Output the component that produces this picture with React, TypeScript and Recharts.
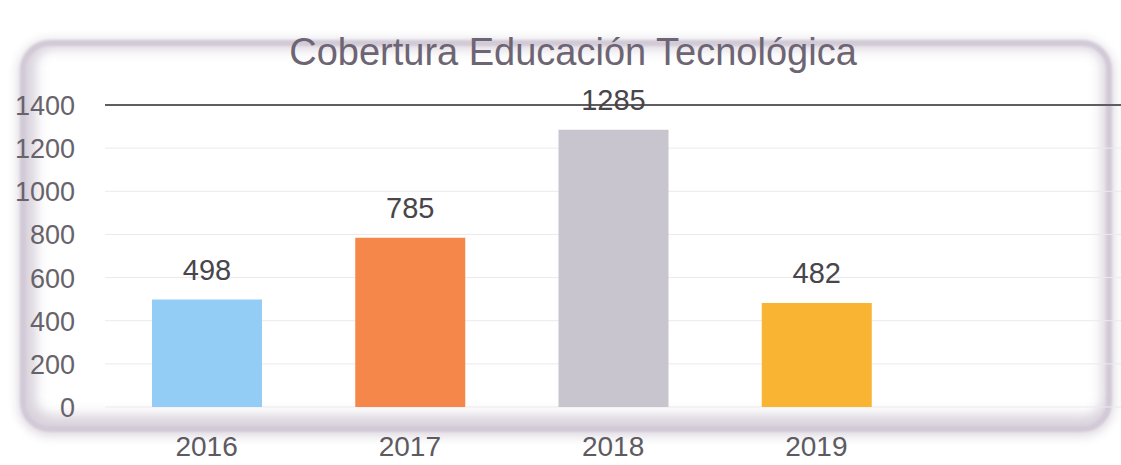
import React from 'react';
import { BarChart, Bar, XAxis, YAxis, CartesianGrid, ReferenceLine, LabelList, Cell } from 'recharts';

const title = 'Cobertura Educación Tecnológica';
const years = ['2016', '2017', '2018', '2019'];
const values = [498, 785, 1285, 482];
const barColors = ['#93cdf5', '#f5874b', '#c9c5cf', '#f8b432'];
const yTicks = [0, 200, 400, 600, 800, 1000, 1200, 1400];

const data = years.map((year, i) => ({ year, value: values[i] }));

const FONT = '"Liberation Sans", Arial, sans-serif';

const XTick = (props: any) => {
  const { x, y, payload } = props;
  return (
    <text x={x} y={y + 49} textAnchor="middle" fontFamily={FONT} fontSize={28} fill="#5e5a62">
      {payload.value}
    </text>
  );
};

const YTick = (props: any) => {
  const { x, y, payload } = props;
  return (
    <text x={x - 30} y={y + 10} textAnchor="end" fontFamily={FONT} fontSize={27} fill="#67636b">
      {payload.value}
    </text>
  );
};

const ValueLabel = (props: any) => {
  const { x, y, width, value } = props;
  return (
    <text x={x + width / 2} y={y - 20} textAnchor="middle" fontFamily={FONT} fontSize={29} fill="#48464a">
      {value}
    </text>
  );
};

export default function App() {
  return (
    <div style={{ position: 'absolute', left: 0, top: 0, width: 1121, height: 465, background: '#ffffff', overflow: 'hidden' }}>
      <div
        style={{
          position: 'absolute',
          left: 20,
          top: 40,
          width: 1092,
          height: 392,
          borderRadius: 30,
          border: '6px solid rgba(165,150,175,0.5)',
          boxShadow: 'inset 3px -4px 12px 7px rgba(160,145,170,0.4), 0 2px 8px 3px rgba(160,145,170,0.3)',
          boxSizing: 'border-box',
          filter: 'blur(1px)',
        }}
      />
      <div style={{ position: 'absolute', left: 0, top: 0 }}>
        <BarChart width={1121} height={465} data={data} margin={{ top: 105, right: 0, bottom: 0, left: 0 }}>
          <CartesianGrid horizontal={true} vertical={false} stroke="#ebe9ee" strokeWidth={1} />
          <XAxis
            dataKey="year"
            axisLine={false}
            tickLine={false}
            tickSize={0}
            tickMargin={0}
            height={58}
            padding={{ left: 0, right: 203 }}
            tick={<XTick />}
            interval={0}
          />
          <YAxis
            domain={[0, 1400]}
            ticks={yTicks}
            axisLine={false}
            tickLine={false}
            tickSize={0}
            tickMargin={0}
            width={105}
            tick={<YTick />}
            interval={0}
          />
          <ReferenceLine y={1400} stroke="#5f5d62" strokeWidth={2} />
          <Bar dataKey="value" barSize={110} isAnimationActive={false}>
            {data.map((d, i) => (
              <Cell key={d.year} fill={barColors[i]} />
            ))}
            <LabelList dataKey="value" content={<ValueLabel />} />
          </Bar>
        </BarChart>
      </div>
      <svg width={1121} height={465} style={{ position: 'absolute', left: 0, top: 0, pointerEvents: 'none' }}>
        <text x={573} y={65} textAnchor="middle" fontFamily={FONT} fontSize={38} fill="#6d6573">
          {title}
        </text>
      </svg>
    </div>
  );
}
